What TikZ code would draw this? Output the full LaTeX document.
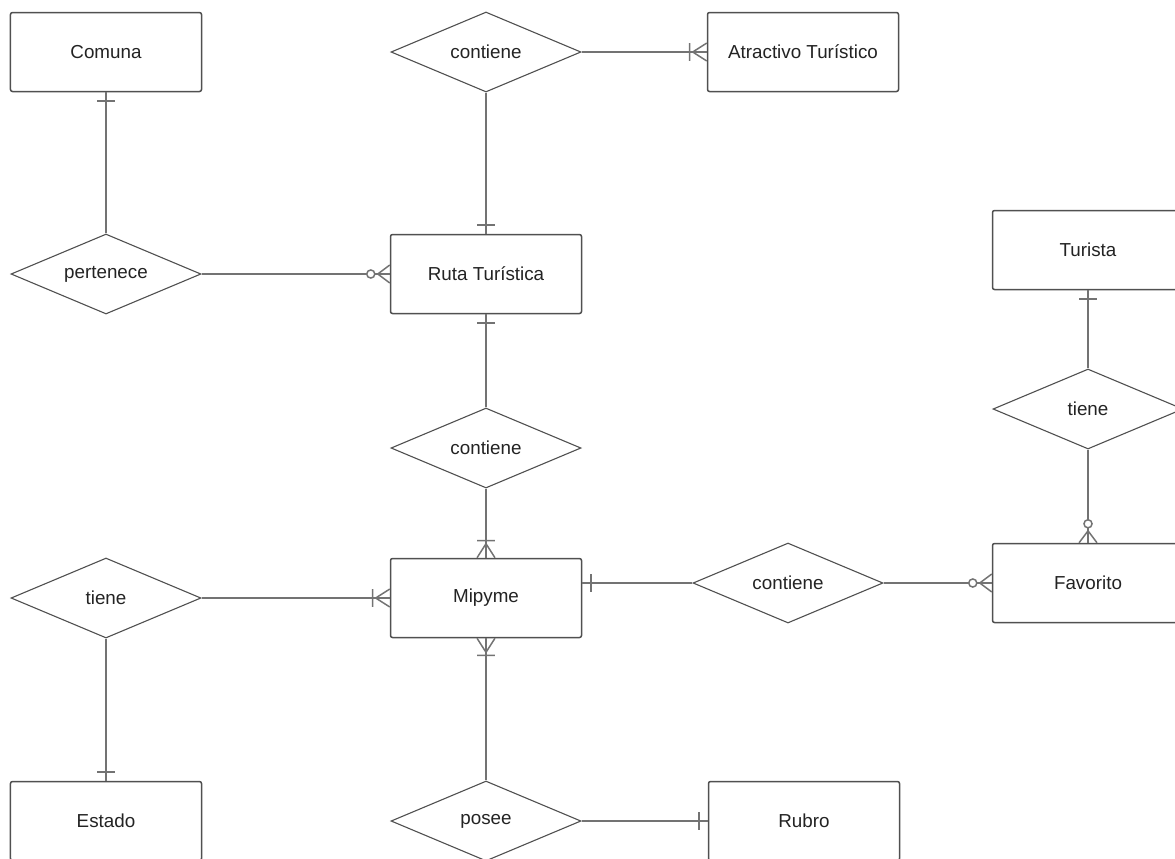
\documentclass[tikz,border=0pt]{standalone}
\usepackage{fontspec}
\setmainfont{Liberation Sans}
\usepackage{tikz}
\usetikzlibrary{shapes.geometric}
\definecolor{erBorder}{RGB}{80,80,80}
\definecolor{erLine}{RGB}{115,115,115}
\definecolor{erText}{RGB}{35,35,35}

% crow's foot ends (tip sits on the entity border)
\pgfdeclarearrow{
  name = erOne,
  parameters = {\the\pgflinewidth},
  setup code = {
    \pgfarrowssettipend{0pt}
    \pgfarrowssetlineend{0pt}
    \pgfarrowssetbackend{-6pt}
  },
  drawing code = {
    \pgfpathmoveto{\pgfqpoint{-5.1pt}{5.1pt}}
    \pgfpathlineto{\pgfqpoint{-5.1pt}{-5.1pt}}
    \pgfusepathqstroke
  }
}
\pgfdeclarearrow{
  name = erMany,
  parameters = {\the\pgflinewidth},
  setup code = {
    \pgfarrowssettipend{0pt}
    \pgfarrowssetlineend{0pt}
    \pgfarrowssetbackend{-11pt}
  },
  drawing code = {
    \pgfpathmoveto{\pgfqpoint{0pt}{5.1pt}}
    \pgfpathlineto{\pgfqpoint{-8pt}{0pt}}
    \pgfpathlineto{\pgfqpoint{0pt}{-5.1pt}}
    \pgfpathmoveto{\pgfqpoint{-9.8pt}{5.1pt}}
    \pgfpathlineto{\pgfqpoint{-9.8pt}{-5.1pt}}
    \pgfusepathqstroke
  }
}
\pgfdeclarearrow{
  name = erZeroMany,
  parameters = {\the\pgflinewidth},
  setup code = {
    \pgfarrowssettipend{0pt}
    \pgfarrowssetlineend{0pt}
    \pgfarrowssetbackend{-14pt}
  },
  drawing code = {
    \pgfpathmoveto{\pgfqpoint{0pt}{5.1pt}}
    \pgfpathlineto{\pgfqpoint{-6.8pt}{0pt}}
    \pgfpathlineto{\pgfqpoint{0pt}{-5.1pt}}
    \pgfusepathqstroke
    \pgfsetfillcolor{white}
    \pgfpathcircle{\pgfqpoint{-10.8pt}{0pt}}{2.3pt}
    \pgfusepathqfillstroke
  }
}

\begin{document}
\begin{tikzpicture}[
        x=0.2mm, y=-0.2mm,
        entity/.style={rectangle, draw=erBorder, fill=white, line width=0.3mm, rounded corners=0.4mm, minimum width=38.2mm, minimum height=15.8mm, align=center, text=erText, font=\fontsize{10.7}{13}\selectfont},
        relation/.style={diamond, aspect=2.4, draw=erBorder, fill=white, line width=0.22mm, minimum width=38mm, minimum height=16mm, inner sep=0pt, align=center, text=erText, font=\fontsize{10.7}{13}\selectfont},
        rel/.style={draw=erLine, line width=0.3mm}
    ]
        \path[use as bounding box, clip] (0,0) rectangle (1175,858);

        % Entities
        \node[entity] (comuna) at (106,52) {Comuna};
        \node[entity] (atractivo) at (803,52) {Atractivo Turístico};
        \node[entity] (ruta) at (486,274) {Ruta Turística};
        \node[entity] (turista) at (1088,250) {Turista};
        \node[entity] (mipyme) at (486,598) {Mipyme};
        \node[entity] (favorito) at (1088,583) {Favorito};
        \node[entity] (estado) at (106,821) {Estado};
        \node[entity] (rubro) at (804,821) {Rubro};

        % Relationships
        \node[relation] (contRuta) at (486,52) {contiene};
        \node[relation] (pertenece) at (106,274) {pertenece};
        \node[relation] (contMipyme) at (486,448) {contiene};
        \node[relation] (tieneFav) at (1088,409) {tiene};
        \node[relation] (contFav) at (788,583) {contiene};
        \node[relation] (tieneEst) at (106,598) {tiene};
        \node[relation] (posee) at (486,821) {posee};

        % Connectors
        \draw[rel, -erOne] (pertenece) -- (comuna);
        \draw[rel, -erZeroMany] (pertenece) -- (ruta);
        \draw[rel, -erMany] (contRuta) -- (atractivo);
        \draw[rel, -erOne] (contRuta) -- (ruta);
        \draw[rel, -erOne] (contMipyme) -- (ruta);
        \draw[rel, -erMany] (contMipyme) -- (mipyme);
        \draw[rel, -erMany] (tieneEst) -- (mipyme);
        \draw[rel, -erOne] (tieneEst) -- (estado);
        \draw[rel, -erMany] (posee) -- (mipyme);
        \draw[rel, -erOne] (posee) -- (rubro);
        \draw[rel, -erOne] (contFav.west) -- (contFav.west -| mipyme.east);
        \draw[rel, -erZeroMany] (contFav) -- (favorito);
        \draw[rel, -erOne] (tieneFav) -- (turista);
        \draw[rel, -erZeroMany] (tieneFav) -- (favorito);

    \end{tikzpicture}
\end{document}
